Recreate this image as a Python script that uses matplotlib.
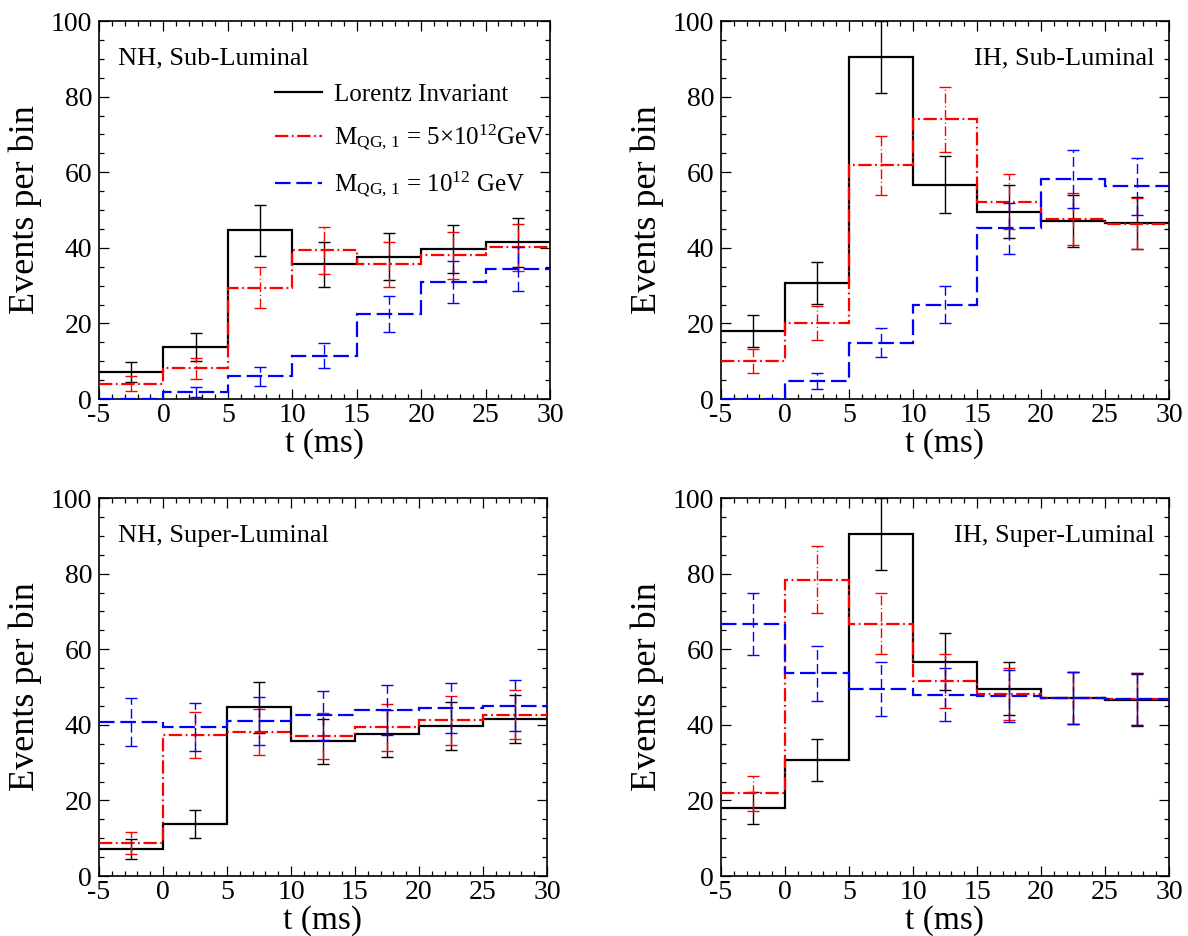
import numpy as np
import matplotlib
matplotlib.use("Agg")
import matplotlib.pyplot as plt
from matplotlib.ticker import MultipleLocator

plt.rcParams['font.family'] = ['Liberation Serif', 'DejaVu Serif']
plt.rcParams['mathtext.fontset'] = 'custom'
plt.rcParams['mathtext.rm'] = 'Liberation Serif'
plt.rcParams['mathtext.it'] = 'Liberation Serif:italic'
plt.rcParams['axes.unicode_minus'] = False

# bin edges (ms)
edges = np.array([-5, 0, 5, 10, 15, 20, 25, 30])
centers = (edges[:-1] + edges[1:]) / 2

# Lorentz invariant (same for sub- and super-luminal)
li_nh = [7.1, 13.7, 44.6, 35.6, 37.7, 39.7, 41.5]
li_ih = [18.1, 30.6, 90.5, 56.7, 49.6, 47.1, 46.5]

# M_QG,1 = 5e12 GeV
red_nh_sub = [4.0, 8.1, 29.5, 39.3, 35.7, 38.0, 40.1]
red_ih_sub = [10.1, 20.1, 61.8, 74.0, 52.2, 47.6, 46.4]
red_nh_sup = [8.7, 37.2, 38.1, 37.0, 39.3, 41.2, 42.7]
red_ih_sup = [21.9, 78.4, 66.8, 51.6, 48.2, 47.1, 46.8]

# M_QG,1 = 1e12 GeV
blue_nh_sub = [0.0, 1.85, 6.0, 11.5, 22.5, 31.0, 34.4]
blue_ih_sub = [0.0, 4.8, 14.9, 25.0, 45.2, 58.3, 56.3]
blue_nh_sup = [40.8, 39.4, 41.0, 42.5, 43.8, 44.4, 45.1]
blue_ih_sup = [66.6, 53.6, 49.5, 48.0, 47.6, 47.0, 46.8]

titles = ["NH, Sub-Luminal", "IH, Sub-Luminal", "NH, Super-Luminal", "IH, Super-Luminal"]
panels = [
    (li_nh, red_nh_sub, blue_nh_sub),
    (li_ih, red_ih_sub, blue_ih_sub),
    (li_nh, red_nh_sup, blue_nh_sup),
    (li_ih, red_ih_sup, blue_ih_sup),
]
labels = ["Lorentz Invariant",
          r"M$_{\mathrm{QG,\,1}}$ = 5×10$^{12}$GeV",
          r"M$_{\mathrm{QG,\,1}}$ = 10$^{12}$ GeV"]

colors = ['black', 'red', 'blue']
styles = ['-', (0, (6, 1.6, 0.8, 1.6)), (0, (7, 2.6))]
err_styles = ['-', (0, (7, 2.0, 0.8, 2.0)), (0, (7, 3.0))]

positions = [
    [0.0833, 0.5737, 0.3796, 0.4038],
    [0.6069, 0.5737, 0.3771, 0.4038],
    [0.0833, 0.0641, 0.3771, 0.4038],
    [0.6069, 0.0641, 0.3771, 0.4038],
]

fig = plt.figure(figsize=(11.88, 9.36), dpi=100)

for i, (pos, title, series) in enumerate(zip(positions, titles, panels)):
    ax = fig.add_axes(pos)
    for k, vals in enumerate(series):
        vals = np.array(vals)
        ax.stairs(vals, edges, baseline=None, color=colors[k], lw=1.6,
                  linestyle=styles[k], zorder=2 + k, label=labels[k])
        eb = ax.errorbar(centers, vals, yerr=np.sqrt(vals), fmt='none',
                         ecolor=colors[k], elinewidth=1.0, capsize=4.5,
                         capthick=1.0, zorder=2 + k)
        eb[2][0].set_linestyle(err_styles[k])

    ax.set_xlim(-5, 30)
    ax.set_ylim(0, 100)
    ax.xaxis.set_major_locator(MultipleLocator(5))
    ax.xaxis.set_minor_locator(MultipleLocator(1))
    ax.yaxis.set_major_locator(MultipleLocator(20))
    ax.yaxis.set_minor_locator(MultipleLocator(5))
    ax.tick_params(which='both', direction='in', top=True, right=True,
                   labelsize=20, width=0.9)
    ax.tick_params(axis='x', pad=3)
    ax.tick_params(axis='y', pad=5)
    ax.tick_params(which='major', length=7)
    ax.tick_params(which='minor', length=3.5)
    for sp in ax.spines.values():
        sp.set_linewidth(1.2)
    ax.set_xlabel("t (ms)", fontsize=24, labelpad=0)
    ax.set_ylabel("Events per bin", fontsize=26, labelpad=6)

    if i % 2 == 0:
        ax.text(0.043, 0.885, title, transform=ax.transAxes, fontsize=19,
                ha='left', va='baseline')
    else:
        ax.text(0.968, 0.885, title, transform=ax.transAxes, fontsize=19,
                ha='right', va='baseline')

    if i == 0:
        ax.legend(loc='upper left', bbox_to_anchor=(0.39, 0.835), frameon=False,
                  fontsize=18, handlelength=1.9, handletextpad=0.45,
                  labelspacing=0.68, borderpad=0, borderaxespad=0)

fig.savefig("out.png", dpi=100)
